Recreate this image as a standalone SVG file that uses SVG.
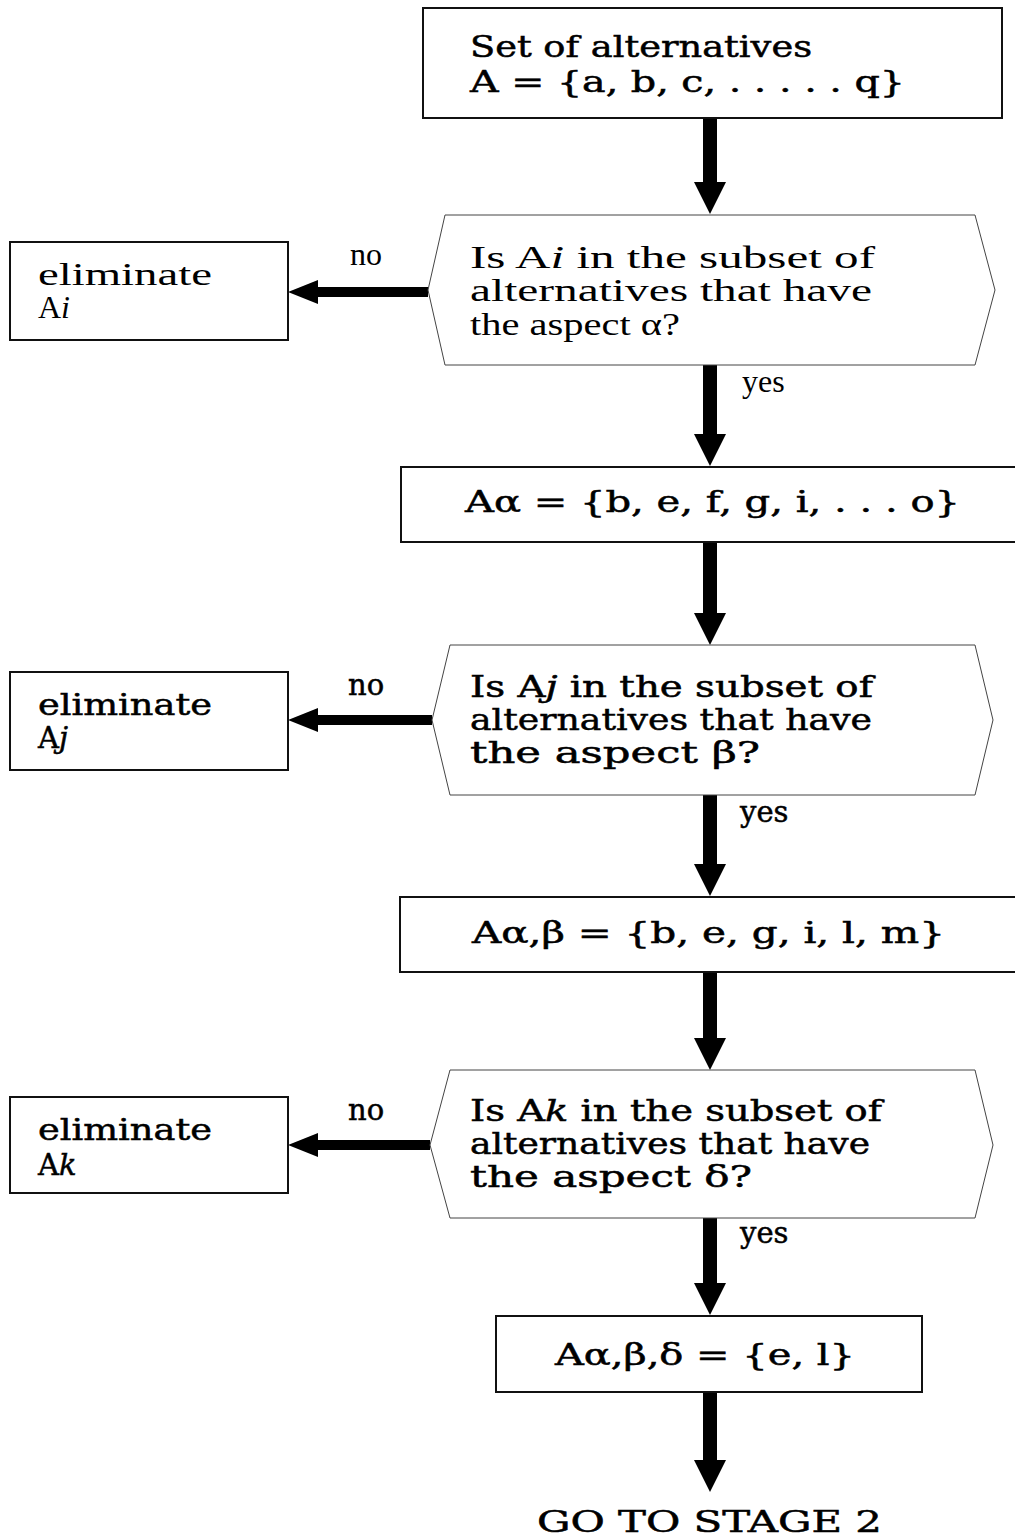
<svg xmlns="http://www.w3.org/2000/svg" width="1015" height="1537" viewBox="0 0 1015 1537">
<style>
.box{fill:#fff;stroke:#111;stroke-width:2}
.hex{fill:#fff;stroke:#444;stroke-width:1}
.t{font-family:"DejaVu Serif","Liberation Serif",serif;font-size:29px;fill:#000;stroke:#000;stroke-width:0.5}
.tt{font-family:"Liberation Serif","Times New Roman",serif;font-size:32px;fill:#000}
.arr{fill:#000;stroke:none}
</style>
<g id="connectors">
<polygon class="arr" points="703,118 717,118 717,182 726,182 710,214 694,182 703,182"/>
<polygon class="arr" points="428,287 318,287 318,280 288,292 318,304 318,297 428,297"/>
<polygon class="arr" points="703,365 717,365 717,434 726,434 710,466 694,434 703,434"/>
<polygon class="arr" points="703,542 717,542 717,613 726,613 710,645 694,613 703,613"/>
<polygon class="arr" points="432,715 318,715 318,708 288,720 318,732 318,725 432,725"/>
<polygon class="arr" points="703,795 717,795 717,864 726,864 710,896 694,864 703,864"/>
<polygon class="arr" points="703,972 717,972 717,1038 726,1038 710,1070 694,1038 703,1038"/>
<polygon class="arr" points="430,1140 318,1140 318,1133 288,1145 318,1157 318,1150 430,1150"/>
<polygon class="arr" points="703,1218 717,1218 717,1283 726,1283 710,1315 694,1283 703,1283"/>
<polygon class="arr" points="703,1392 717,1392 717,1460 726,1460 710,1492 694,1460 703,1460"/>
<text class="tt" x="350" y="265">no</text>
<text class="tt" x="742" y="392">yes</text>
<text class="t" x="348" y="695">no</text>
<text class="t" x="740" y="822">yes</text>
<text class="t" x="348" y="1120">no</text>
<text class="t" x="740" y="1243">yes</text>
</g>
<g id="start">
<rect class="box" x="423" y="8" width="579" height="110"/>
<text class="t" x="470" y="57" textLength="342" lengthAdjust="spacingAndGlyphs">Set of alternatives</text>
<text class="t" x="470" y="92" textLength="435" lengthAdjust="spacingAndGlyphs">A = {a, b, c, . . . . . q}</text>
</g>
<g id="decision1">
<polygon class="hex" points="445,215 975,215 995,290 975,365 445,365 428,290"/>
<text class="tt" x="470" y="268" textLength="405" lengthAdjust="spacingAndGlyphs">Is A<tspan font-style="italic">i</tspan> in the subset of</text>
<text class="tt" x="470" y="301" textLength="402" lengthAdjust="spacingAndGlyphs">alternatives that have</text>
<text class="tt" x="470" y="335" textLength="210" lengthAdjust="spacingAndGlyphs">the aspect α?</text>
</g>
<g id="elim1">
<rect class="box" x="10" y="242" width="278" height="98"/>
<text class="tt" x="38" y="285" textLength="174" lengthAdjust="spacingAndGlyphs">eliminate</text>
<text class="tt" x="38" y="318">A<tspan font-style="italic">i</tspan></text>
</g>
<g id="set-alpha">
<rect class="box" x="401" y="467" width="620" height="75"/>
<text class="t" x="465" y="512" textLength="495" lengthAdjust="spacingAndGlyphs">Aα = {b, e, f, g, i, . . . o}</text>
</g>
<g id="decision2">
<polygon class="hex" points="450,645 975,645 993,720 975,795 450,795 432,720"/>
<text class="t" x="470" y="697" textLength="403" lengthAdjust="spacingAndGlyphs">Is A<tspan font-style="italic">j</tspan> in the subset of</text>
<text class="t" x="470" y="730" textLength="402" lengthAdjust="spacingAndGlyphs">alternatives that have</text>
<text class="t" x="470" y="763" textLength="290" lengthAdjust="spacingAndGlyphs">the aspect β?</text>
</g>
<g id="elim2">
<rect class="box" x="10" y="672" width="278" height="98"/>
<text class="t" x="38" y="715" textLength="174" lengthAdjust="spacingAndGlyphs">eliminate</text>
<text class="t" x="38" y="748">A<tspan font-style="italic">j</tspan></text>
</g>
<g id="set-alpha-beta">
<rect class="box" x="400" y="897" width="620" height="75"/>
<text class="t" x="472" y="943" textLength="473" lengthAdjust="spacingAndGlyphs">Aα,β = {b, e, g, i, l, m}</text>
</g>
<g id="decision3">
<polygon class="hex" points="450,1070 975,1070 993,1145 975,1218 450,1218 430,1145"/>
<text class="t" x="470" y="1121" textLength="412" lengthAdjust="spacingAndGlyphs">Is A<tspan font-style="italic">k</tspan> in the subset of</text>
<text class="t" x="470" y="1154" textLength="400" lengthAdjust="spacingAndGlyphs">alternatives that have</text>
<text class="t" x="470" y="1187" textLength="282" lengthAdjust="spacingAndGlyphs">the aspect δ?</text>
</g>
<g id="elim3">
<rect class="box" x="10" y="1097" width="278" height="96"/>
<text class="t" x="38" y="1140" textLength="174" lengthAdjust="spacingAndGlyphs">eliminate</text>
<text class="t" x="38" y="1175">A<tspan font-style="italic">k</tspan></text>
</g>
<g id="set-final">
<rect class="box" x="496" y="1316" width="426" height="76"/>
<text class="t" x="555" y="1365" textLength="300" lengthAdjust="spacingAndGlyphs">Aα,β,δ = {e, l}</text>
</g>
<g id="end">
<text class="t" x="537" y="1532" textLength="345" lengthAdjust="spacingAndGlyphs">GO TO STAGE 2</text>
</g>
</svg>
